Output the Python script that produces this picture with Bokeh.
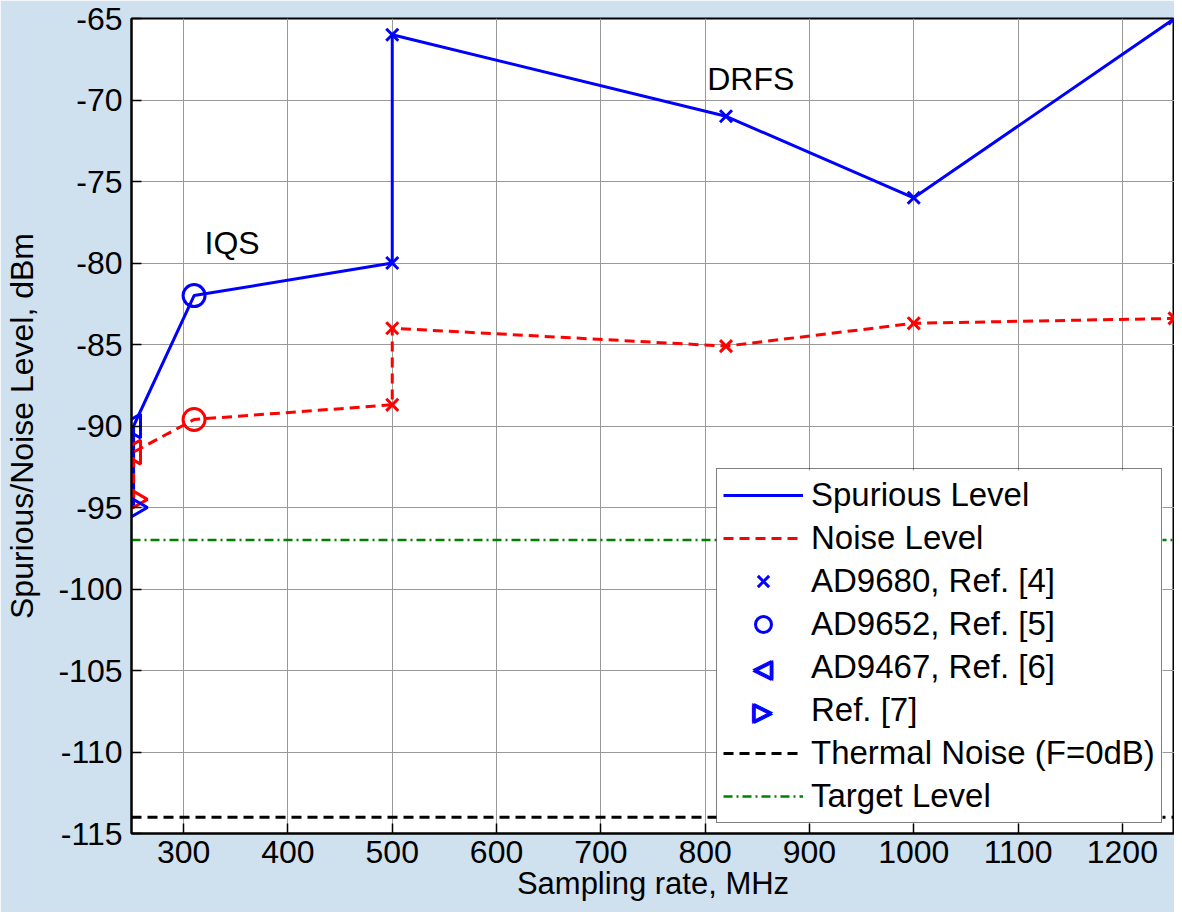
from bokeh.plotting import figure
from bokeh.models import Legend, LegendItem, FixedTicker, Range1d, PrintfTickFormatter
from bokeh.core.properties import value
from bokeh.embed import file_html
from bokeh.resources import INLINE

# ---------------- data ----------------
rate_mhz = [252, 252, 310, 500, 500, 820, 1000, 1250]
spurious_dbm = [-95, -90, -82, -80, -66, -71, -76, -65]
noise_dbm = [-94.5, -91.6, -89.6, -88.7, -84, -85.1, -83.7, -83.4]

# marker groups (indices into the arrays above)
ad9680_idx = [3, 4, 5, 6, 7]
ad9652_idx = [2]
ad9467_idx = [1]
ref7_idx = [0]

x_ends = [250, 1250]
thermal_noise_dbm = -114
target_level_dbm = -97

x_ticks = [300, 400, 500, 600, 700, 800, 900, 1000, 1100, 1200]
y_ticks = [-115, -110, -105, -100, -95, -90, -85, -80, -75, -70, -65]

note_text = ["IQS", "DRFS"]
note_x = [320, 802]
note_y = [-78.8, -68.7]

legend_labels = ["Spurious Level", "Noise Level", "AD9680, Ref. [4]", "AD9652, Ref. [5]",
                 "AD9467, Ref. [6]", "Ref. [7]", "Thermal Noise (F=0dB)", "Target Level"]

FONT = "Liberation Sans"
FS = "32px"
BLUE = "#0000ff"
RED = "#ff0000"
GREEN = "#008000"

X0, X1, Y0, Y1 = 250, 1250, -115, -65
W, H = 1174, 912
B_LEFT, B_RIGHT, B_TOP, B_BOTTOM = 131, 0, 18, 79
FRAME_W = W - B_LEFT - B_RIGHT
FRAME_H = H - B_TOP - B_BOTTOM

p = figure(width=W, height=H,
           x_range=Range1d(X0, X1), y_range=Range1d(Y0, Y1),
           output_backend="svg", toolbar_location=None,
           min_border_left=B_LEFT, min_border_right=B_RIGHT,
           min_border_top=B_TOP, min_border_bottom=B_BOTTOM)

p.background_fill_color = "white"
p.border_fill_color = "#cfe0ee"
p.outline_line_color = "black"
p.outline_line_width = 2

for ax in (p.xaxis[0], p.yaxis[0]):
    ax.major_label_text_font = FONT
    ax.major_label_text_font_size = FS
    ax.major_label_text_color = "black"
    ax.axis_label_text_font = FONT
    ax.axis_label_text_font_style = "normal"
    ax.axis_label_text_color = "black"
    ax.major_tick_in = 10
    ax.major_tick_out = 0
    ax.minor_tick_in = 0
    ax.minor_tick_out = 0
    ax.axis_line_width = 2
    ax.major_tick_line_width = 1.5
    ax.formatter = PrintfTickFormatter(format="%d")

p.xaxis[0].ticker = FixedTicker(ticks=x_ticks)
p.yaxis[0].ticker = FixedTicker(ticks=y_ticks)
p.xaxis[0].axis_label = "Sampling rate, MHz"
p.yaxis[0].axis_label = "Spurious/Noise Level, dBm"
p.xaxis[0].axis_label_text_font_size = "31px"
p.yaxis[0].axis_label_text_font_size = "32px"
p.xaxis[0].major_label_standoff = 7
p.xaxis[0].axis_label_standoff = 0
p.yaxis[0].major_label_standoff = 9
p.yaxis[0].axis_label_standoff = 15

p.xgrid.ticker = FixedTicker(ticks=x_ticks)
p.ygrid.ticker = FixedTicker(ticks=y_ticks)
p.grid.grid_line_color = "#9a9a9a"
p.grid.grid_line_width = 1

# lines
r_thermal = p.line(x_ends, [thermal_noise_dbm] * 2, line_color="black", line_width=3, line_dash="10 6")
r_target = p.line(x_ends, [target_level_dbm] * 2, line_color=GREEN, line_width=2.5, line_dash="9 4 2 4")
r_spur = p.line(rate_mhz, spurious_dbm, line_color=BLUE, line_width=3)
r_noise = p.line(rate_mhz, noise_dbm, line_color=RED, line_width=3, line_dash="10 6")


def pick(arr, idx):
    return [arr[i] for i in idx]


marker_specs = [
    (ad9680_idx, "x", 17, 0.0),
    (ad9652_idx, "circle", 22, 0.0),
    (ad9467_idx, "triangle", 24, 1.5708),
    (ref7_idx, "triangle", 24, -1.5708),
]
legend_marker_renderers = []
for idx, marker, size, ang in marker_specs:
    p.scatter(pick(rate_mhz, idx), pick(noise_dbm, idx), marker=marker, size=size, angle=ang,
              line_color=RED, fill_color=None, line_width=3)
    rb = p.scatter(pick(rate_mhz, idx), pick(spurious_dbm, idx), marker=marker, size=size, angle=ang,
                   line_color=BLUE, fill_color=None, line_width=3)
    legend_marker_renderers.append(rb)

p.text(x=note_x, y=note_y, text=note_text, text_font=value(FONT), text_font_size=FS,
       text_color="black", text_align="left", text_baseline="alphabetic")

# ---------------- legend ----------------
# Bokeh draws legend markers unrotated, so the two sideways triangles are drawn as
# text symbols placed from the legend geometry, on a white panel under a transparent legend.
blank = p.scatter([], [], marker="circle", size=1, line_alpha=0, fill_alpha=0)
item_renderers = [r_spur, r_noise, legend_marker_renderers[0], legend_marker_renderers[1],
                  blank, blank, r_thermal, r_target]

LEG_X, LEG_Y, LEG_W = 585, 10, 446
PAD, GLYPH_W, ROW_H, SPACING, STANDOFF = 6, 80, 40, 3, 8
n_rows = len(legend_labels)
LEG_H = 2 * PAD + n_rows * ROW_H + (n_rows - 1) * SPACING


def to_x(sx):
    return X0 + sx * (X1 - X0) / FRAME_W


def to_y(sy):
    return Y0 + sy * (Y1 - Y0) / FRAME_H


p.quad(left=[to_x(LEG_X)], right=[to_x(LEG_X + LEG_W)], bottom=[to_y(LEG_Y)], top=[to_y(LEG_Y + LEG_H)],
       fill_color="white", line_color=None)

sym_rows = [4, 5]
sym_chars = ["\u25c1", "\u25b7"]
stroke_offsets = [(-1, -1), (1, -1), (-1, 1), (1, 1), (0, 0)]   # thickens the outline
sym_x, sym_y, sym_text, sym_dx, sym_dy = [], [], [], [], []
for r, ch in zip(sym_rows, sym_chars):
    for dx, dy in stroke_offsets:
        sym_x.append(to_x(LEG_X + PAD + GLYPH_W / 2))
        sym_y.append(to_y(LEG_Y + LEG_H - PAD - r * (ROW_H + SPACING) - ROW_H / 2))
        sym_text.append(ch)
        sym_dx.append(dx)
        sym_dy.append(dy)
p.text(x=sym_x, y=sym_y, text=sym_text, x_offset=sym_dx, y_offset=sym_dy,
       text_font=value("DejaVu Sans"), text_font_size="25px",
       text_color=BLUE, text_align="center", text_baseline="middle")

legend = Legend(items=[LegendItem(label=lab, renderers=[r]) for lab, r in zip(legend_labels, item_renderers)],
                location=(LEG_X, LEG_Y))
legend.label_text_font = FONT
legend.label_text_font_size = "33px"
legend.label_text_color = "black"
legend.glyph_width = GLYPH_W
legend.glyph_height = ROW_H
legend.label_height = ROW_H
legend.spacing = SPACING
legend.padding = PAD
legend.margin = 0
legend.label_standoff = STANDOFF
legend.border_line_color = "black"
legend.border_line_width = 1.5
legend.background_fill_color = "white"
legend.background_fill_alpha = 0.0
p.add_layout(legend, "center")

open("out.html", "w").write(file_html(p, INLINE))
